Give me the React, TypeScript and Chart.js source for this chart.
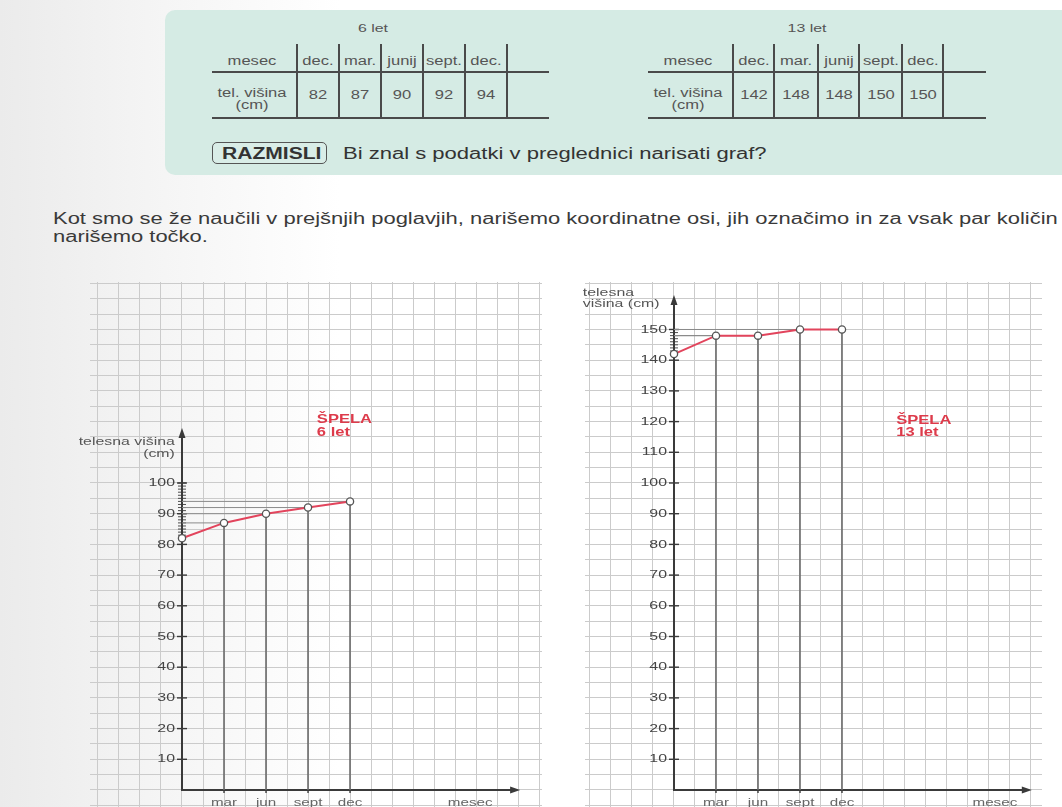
import React, { useEffect, useLayoutEffect, useRef, useState } from 'react';
import { Chart, registerables } from 'chart.js';

Chart.register(...registerables);

// ---------- data ----------
const tableMonths = ['dec.', 'mar.', 'junij', 'sept.', 'dec.'];
const heights6 = [82, 87, 90, 92, 94];
const heights13 = [142, 148, 148, 150, 150];
const axisMonths = ['mar', 'jun', 'sept', 'dec'];
const yTicks6 = [10, 20, 30, 40, 50, 60, 70, 80, 90, 100];
const yTicks13 = [10, 20, 30, 40, 50, 60, 70, 80, 90, 100, 110, 120, 130, 140, 150];
const ladder6 = [82, 100];
const ladder13 = [142, 150];

// ---------- style ----------
const SX = 1.38;
const FONT = '"Liberation Sans", Arial, Helvetica, sans-serif';
const RED_LINE = '#e2445c';
const RED_TEXT = '#dd3b4b';
const AXIS = '#3a3a3a';

type Cfg = {
  left: number; top: number; w: number; h: number;
  pad: { left: number; right: number; top: number; bottom: number };
  xMin: number; xMax: number; yMin: number; yMax: number;
  xArrow: number; yArrow: number;
  values: number[]; yTicks: number[]; ladder: number[];
  mesecX: number;
  yTitle: { text: string; x: number; y: number; align: CanvasTextAlign }[];
  name: { text: string; x: number; y: number }[];
};

const chart6: Cfg = {
  left: 40, top: 270, w: 520, h: 537,
  pad: { left: 50, right: 18, top: 12, bottom: 0 },
  xMin: -2.19, xMax: 8.57, yMin: -5.54, yMax: 165.47,
  xArrow: 8.05, yArrow: 117.9,
  values: heights6, yTicks: yTicks6, ladder: ladder6,
  mesecX: 6.86,
  yTitle: [
    { text: 'telesna višina', x: -0.17, y: 113.4, align: 'right' },
    { text: '(cm)', x: -0.17, y: 109.4, align: 'right' },
  ],
  name: [
    { text: 'ŠPELA', x: 3.21, y: 120.5 },
    { text: '6 let', x: 3.21, y: 116.3 },
  ],
};

const chart13: Cfg = {
  left: 560, top: 270, w: 502, h: 537,
  pad: { left: 25, right: 20, top: 12, bottom: 0 },
  xMin: -2.119, xMax: 8.762, yMin: -5.54, yMax: 165.47,
  xArrow: 8.52, yArrow: 161.2,
  values: heights13, yTicks: yTicks13, ladder: ladder13,
  mesecX: 7.64,
  yTitle: [
    { text: 'telesna', x: -2.17, y: 161.9, align: 'left' },
    { text: 'višina (cm)', x: -2.17, y: 158.3, align: 'left' },
  ],
  name: [
    { text: 'ŠPELA', x: 5.29, y: 120.2 },
    { text: '13 let', x: 5.29, y: 116.3 },
  ],
};

function drawText(
  ctx: CanvasRenderingContext2D, text: string, x: number, y: number,
  size: number, color: string, align: CanvasTextAlign, bold = false
) {
  ctx.save();
  ctx.translate(x, y);
  ctx.scale(SX, 1);
  ctx.font = `${bold ? 'bold ' : ''}${size}px ${FONT}`;
  ctx.fillStyle = color;
  ctx.textAlign = align;
  ctx.textBaseline = 'middle';
  ctx.fillText(text, 0, 0);
  ctx.restore();
}

function gridValues(min: number, max: number, step: number) {
  const out: { value: number }[] = [];
  for (let v = Math.ceil(min / step) * step; v <= max + 1e-9; v += step) out.push({ value: Math.round(v * 1000) / 1000 });
  return out;
}

function makePlugin(cfg: Cfg) {
  return {
    id: 'schoolAxes',
    beforeDatasetsDraw(chart: any) {
      const { ctx } = chart;
      const xs = chart.scales.x;
      const ys = chart.scales.y;
      const X = (v: number) => xs.getPixelForValue(v);
      const Y = (v: number) => ys.getPixelForValue(v);
      const x0 = X(0);
      const y0 = Y(0);
      const yTop = Y(cfg.yArrow);
      const xEnd = X(cfg.xArrow);
      ctx.save();
      ctx.strokeStyle = AXIS;
      ctx.fillStyle = AXIS;
      ctx.lineWidth = 2;
      // y axis
      ctx.beginPath();
      ctx.moveTo(x0, y0 + 1);
      ctx.lineTo(x0, yTop + 6);
      ctx.stroke();
      ctx.beginPath();
      ctx.moveTo(x0, yTop);
      ctx.lineTo(x0 - 3.5, yTop + 10);
      ctx.lineTo(x0 + 3.5, yTop + 10);
      ctx.closePath();
      ctx.fill();
      // x axis
      ctx.beginPath();
      ctx.moveTo(x0 - 1, y0);
      ctx.lineTo(xEnd - 6, y0);
      ctx.stroke();
      ctx.beginPath();
      ctx.moveTo(xEnd, y0);
      ctx.lineTo(xEnd - 10, y0 - 3.5);
      ctx.lineTo(xEnd - 10, y0 + 3.5);
      ctx.closePath();
      ctx.fill();
      // major y ticks
      ctx.lineWidth = 1.4;
      cfg.yTicks.forEach((v) => {
        const py = Y(v);
        ctx.beginPath();
        ctx.moveTo(x0 - 5, py);
        ctx.lineTo(x0 + 5, py);
        ctx.stroke();
        drawText(ctx, String(v), x0 - 7, py, 11.5, '#444', 'right');
      });
      // ladder of 1 cm ticks
      ctx.lineWidth = 0.9;
      for (let v = cfg.ladder[0]; v <= cfg.ladder[1]; v++) {
        const py = Y(v);
        ctx.beginPath();
        ctx.moveTo(x0 - 4, py);
        ctx.lineTo(x0 + 4, py);
        ctx.stroke();
      }
      // x ticks and labels
      ctx.lineWidth = 1.4;
      axisMonths.forEach((m, i) => {
        const px = X(i + 1);
        ctx.beginPath();
        ctx.moveTo(px, y0);
        ctx.lineTo(px, y0 + 3);
        ctx.stroke();
        drawText(ctx, m, px, y0 + 13, 11, '#666', 'center');
      });
      drawText(ctx, 'mesec', X(cfg.mesecX), y0 + 13, 11, '#666', 'center');
      // y title
      cfg.yTitle.forEach((t) => drawText(ctx, t.text, X(t.x), Y(t.y), 11.5, '#555', t.align));
      // name label
      cfg.name.forEach((t) => drawText(ctx, t.text, X(t.x), Y(t.y), 12, RED_TEXT, 'left', true));
      ctx.restore();
    },
  };
}

function buildDatasets(values: number[]) {
  const ds: any[] = [
    {
      data: values.map((v, i) => ({ x: i, y: v })),
      showLine: true,
      borderColor: RED_LINE,
      borderWidth: 2,
      pointRadius: 3.6,
      pointBackgroundColor: '#ffffff',
      pointBorderColor: '#555555',
      pointBorderWidth: 1.3,
      order: 0,
    },
  ];
  values.forEach((v, i) => {
    if (i === 0) return;
    ds.push({
      data: [{ x: i, y: 0 }, { x: i, y: v }],
      showLine: true, borderColor: '#6a6a6a', borderWidth: 1.6, pointRadius: 0, order: 2,
    });
    ds.push({
      data: [{ x: 0, y: v }, { x: i, y: v }],
      showLine: true, borderColor: '#8a8a8a', borderWidth: 1, pointRadius: 0, order: 1,
    });
  });
  return ds;
}

function GrowthChart({ cfg }: { cfg: Cfg }) {
  const ref = useRef<HTMLCanvasElement>(null);
  useEffect(() => {
    if (!ref.current) return;
    const gridColor = '#cbcbcb';
    const chart = new Chart(ref.current, {
      type: 'scatter',
      data: { datasets: buildDatasets(cfg.values) },
      options: {
        animation: false,
        responsive: false,
        maintainAspectRatio: false,
        events: [],
        layout: { padding: cfg.pad, autoPadding: false },
        plugins: { legend: { display: false }, tooltip: { enabled: false } },
        scales: {
          x: {
            type: 'linear',
            min: cfg.xMin,
            max: cfg.xMax,
            ticks: { display: false },
            border: { display: false },
            grid: { color: gridColor, lineWidth: 1, drawTicks: false },
            afterBuildTicks: (s: any) => { s.ticks = gridValues(cfg.xMin, cfg.xMax, 0.5); },
            afterFit: (s: any) => { s.height = 0; },
          },
          y: {
            type: 'linear',
            min: cfg.yMin,
            max: cfg.yMax,
            ticks: { display: false },
            border: { display: false },
            grid: { color: gridColor, lineWidth: 1, drawTicks: false },
            afterBuildTicks: (s: any) => { s.ticks = gridValues(cfg.yMin, cfg.yMax, 5); },
            afterFit: (s: any) => { s.width = 0; },
          },
        },
      } as any,
      plugins: [makePlugin(cfg)],
    });
    return () => chart.destroy();
  }, [cfg]);
  return (
    <canvas
      ref={ref}
      width={cfg.w}
      height={cfg.h}
      style={{ position: 'absolute', left: cfg.left, top: cfg.top, width: cfg.w, height: cfg.h }}
    />
  );
}

function T({ x, y, text, size = 12, bold = false, color = '#555', align = 'center' }: {
  x: number; y: number; text: string; size?: number; bold?: boolean; color?: string; align?: 'center' | 'left' | 'right';
}) {
  const origin = align === 'center' ? '50% 50%' : align === 'left' ? '0% 50%' : '100% 50%';
  const tx = align === 'center' ? '-50%' : align === 'left' ? '0%' : '-100%';
  return (
    <span
      style={{
        position: 'absolute', left: x, top: y,
        transform: `translate(${tx}, -50%) scaleX(${SX})`, transformOrigin: origin,
        fontSize: size, lineHeight: 1, fontWeight: bold ? 700 : 400, color, whiteSpace: 'nowrap',
      }}
    >
      {text}
    </span>
  );
}

function Table({ title, titleX, lineLeft, lineRight, cols, values }: {
  title: string; titleX: number; lineLeft: number; lineRight: number; cols: number[]; values: number[];
}) {
  const lc = '#4a4a4a';
  const labelX = (lineLeft + cols[0]) / 2 - 3;
  return (
    <>
      <T x={titleX} y={29} text={title} size={11.5} />
      <div style={{ position: 'absolute', left: lineLeft, top: 71, width: lineRight - lineLeft, height: 1.5, background: lc }} />
      <div style={{ position: 'absolute', left: lineLeft, top: 117, width: lineRight - lineLeft, height: 1.5, background: lc }} />
      {cols.map((c, i) => (
        <div key={i} style={{ position: 'absolute', left: c - 1, top: 44, width: 2, height: 74, background: lc }} />
      ))}
      <T x={labelX} y={61} text="mesec" size={12} />
      <T x={labelX} y={93} text="tel. višina" size={12} />
      <T x={labelX} y={105} text="(cm)" size={12} />
      {tableMonths.map((m, i) => (
        <T key={'m' + i} x={(cols[i] + cols[i + 1]) / 2} y={61} text={m} size={12} />
      ))}
      {values.map((v, i) => (
        <T key={'v' + i} x={(cols[i] + cols[i + 1]) / 2} y={95} text={String(v)} size={12} />
      ))}
    </>
  );
}

function Paragraph() {
  const ref = useRef<HTMLSpanElement>(null);
  const [sx, setSx] = useState(SX);
  useLayoutEffect(() => {
    if (ref.current) {
      const w = ref.current.offsetWidth;
      if (w > 0) setSx(1005 / w);
    }
  }, []);
  const st = (top: number): React.CSSProperties => ({
    position: 'absolute', left: 53, top, fontSize: 16, lineHeight: '16px', color: '#3a3a3a',
    whiteSpace: 'nowrap', transform: `scaleX(${sx})`, transformOrigin: '0 0',
  });
  return (
    <>
      <span ref={ref} style={st(211)}>
        Kot smo se že naučili v prejšnjih poglavjih, narišemo koordinatne osi, jih označimo in za vsak par količin
      </span>
      <span style={st(229)}>narišemo točko.</span>
    </>
  );
}

function FitLine({ text, left, top, width, size, bold, color }: {
  text: string; left: number; top: number; width: number; size: number; bold?: boolean; color: string;
}) {
  const ref = useRef<HTMLSpanElement>(null);
  const [sx, setSx] = useState(SX);
  useLayoutEffect(() => {
    if (ref.current) {
      const w = ref.current.offsetWidth;
      if (w > 0) setSx(width / w);
    }
  }, [text, width]);
  return (
    <span
      ref={ref}
      style={{
        position: 'absolute', left, top, fontSize: size, lineHeight: size + 'px', color,
        fontWeight: bold ? 700 : 400, whiteSpace: 'nowrap', transform: `scaleX(${sx})`, transformOrigin: '0 0',
      }}
    >
      {text}
    </span>
  );
}

export default function App() {
  return (
    <div
      style={{
        position: 'absolute', left: 0, top: 0, width: 1062, height: 807, overflow: 'hidden',
        background: 'linear-gradient(to right, #ebebeb 0px, #f3f3f3 130px, #ffffff 340px)',
        fontFamily: FONT,
      }}
    >
      {/* top panel */}
      <div
        style={{
          position: 'absolute', left: 165, top: 10, width: 940, height: 165,
          background: '#d5ebe4', borderRadius: 10,
        }}
      />
      <Table title="6 let" titleX={373} lineLeft={212} lineRight={549} cols={[297, 339, 381, 423, 465, 507]} values={heights6} />
      <Table title="13 let" titleX={807} lineLeft={648} lineRight={986} cols={[733, 774, 818, 859, 902, 943]} values={heights13} />
      <div
        style={{
          position: 'absolute', left: 212, top: 142, width: 113, height: 20,
          border: '1.5px solid #555', borderRadius: 5, background: '#d9ede7',
        }}
      />
      <FitLine text="RAZMISLI" left={222} top={145.5} width={100} size={16} bold color="#333" />
      <FitLine text="Bi znal s podatki v preglednici narisati graf?" left={343} top={145.5} width={424} size={16} color="#333" />
      <Paragraph />
      <GrowthChart cfg={chart6} />
      <GrowthChart cfg={chart13} />
    </div>
  );
}
